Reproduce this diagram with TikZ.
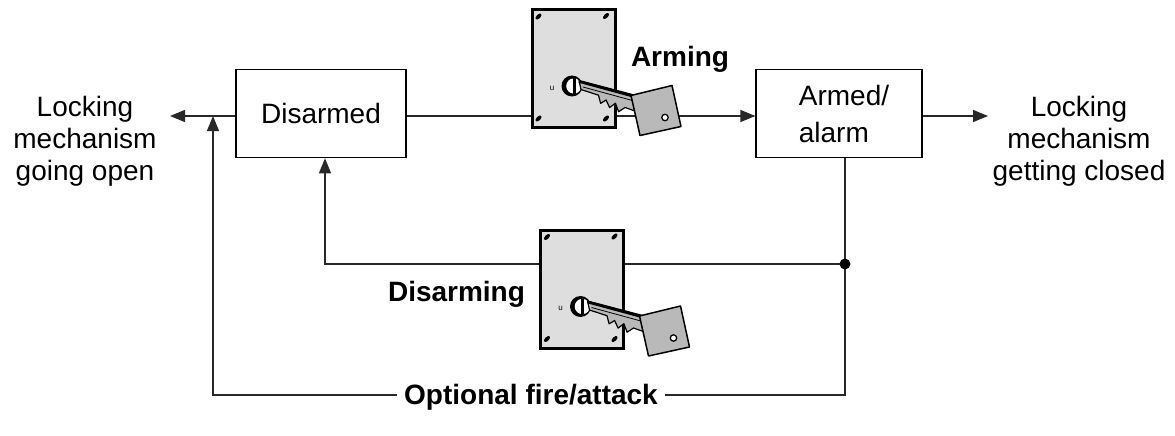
\documentclass[tikz,border=0pt]{standalone}
\usepackage{fontspec}
\setmainfont{Liberation Sans}
\usetikzlibrary{arrows.meta}
\definecolor{plategray}{RGB}{222,222,222}
\definecolor{keygray}{RGB}{185,185,185}
\definecolor{wirecol}{RGB}{40,40,40}
\begin{document}
\begin{tikzpicture}[x=1pt, y=-1pt,
  every node/.style={font=\fontsize{28}{32}\selectfont, inner sep=0pt},
  statebox/.style={draw=black, line width=1.2pt, minimum width=170pt, minimum height=88.4pt},
  wire/.style={draw=wirecol, line width=1.3pt},
  arrowed/.style={-{Triangle[length=15pt, width=12pt]}},
  tag/.style={font=\fontsize{28}{32}\selectfont\bfseries},
  % key switch: mounting plate, cylinder and inserted key (origin = plate top-left)
  keylock/.pic={
    \filldraw[fill=plategray, draw=black, line width=3pt] (0,0) rectangle (83,118);
    \foreach \p in {(6.5,7),(74,6.5),(6.5,109),(74,109)}
      \fill[rotate around={45:\p}] \p ellipse [x radius=3.8, y radius=2];
    \fill (40,76.5) circle[radius=10.5];
    \fill[white] (41.8,76.5) circle[radius=7.6];
    \fill (40.5,68.5) rectangle (43.5,84.5);
    \node[font=\fontsize{8}{8}\selectfont, inner sep=0pt] (-u) at (20,78.5) {u};
    \filldraw[fill=keygray, draw=black, line width=1.2pt, line join=round]
      (47,71) -- (104,86) -- (106,100) -- (104,101.9) -- (93,98) -- (86.6,102.2)
      -- (83.4,93.7) -- (77.6,98.1) -- (74.1,90.5) -- (68.6,93.9) -- (66.5,85.7)
      -- (49,80) -- cycle;
    \draw[line width=2.6pt] (47,72) -- (104,87.5);
    \draw[line width=0.8pt] (51,77.5) -- (104,92);
    \filldraw[fill=keygray, draw=black, line width=1.5pt, line join=round]
      (99,86) -- (140,76) -- (149,117) -- (108,126) -- cycle;
    \filldraw[fill=white, draw=black, line width=1.3pt] (133,108) circle[radius=3.2];
  }]

  \useasboundingbox (0,0) rectangle (1175,436);

  % states
  \node[statebox] (dis) at (321,113.5) {Disarmed};
  \node[statebox, minimum width=166pt, align=left] (arm) at (839,113.5)
    {\hspace*{10pt}Armed/\\[5pt]\hspace*{10pt}alarm};

  % outputs
  \node[align=center] (open) at (85,141) {Locking\\mechanism\\going open};
  \node[align=center] (closed) at (1079,141) {Locking\\mechanism\\getting closed};

  % routing points
  \coordinate (lt) at (170,116);
  \coordinate (rt) at (988,116);
  \coordinate (j) at (845,264);
  \coordinate (d) at (325,264);
  \coordinate (bl) at (213,395);
  \coordinate (br) at (845,395);
  \coordinate (up) at (213,116);

  % connectors
  \draw[wire, arrowed] (dis.east |- lt) -- (arm.west |- lt);
  \draw[wire, arrowed] (dis.west |- lt) -- (lt);
  \draw[wire, arrowed] (arm.east |- rt) -- (rt);
  \draw[wire, arrowed] (arm.south -| j) -- (br) -- (bl) -- (up);
  \draw[wire, arrowed] (j) -- (d) -- (d |- dis.south);
  \node[circle, fill=black, minimum size=11pt] (jdot) at (j) {};

  \node[tag, fill=white, inner xsep=7pt, inner ysep=2pt] (opt) at (531,397.7) {Optional fire/attack};

  % key switches
  \pic (lockA) at (532,9.5) {keylock};
  \pic (lockB) at (540.5,230) {keylock};

  \node[tag, anchor=base] (arming) at (680,66.7) {Arming};
  \node[tag, anchor=base] (disarming) at (456.5,301.7) {Disarming};
\end{tikzpicture}
\end{document}
